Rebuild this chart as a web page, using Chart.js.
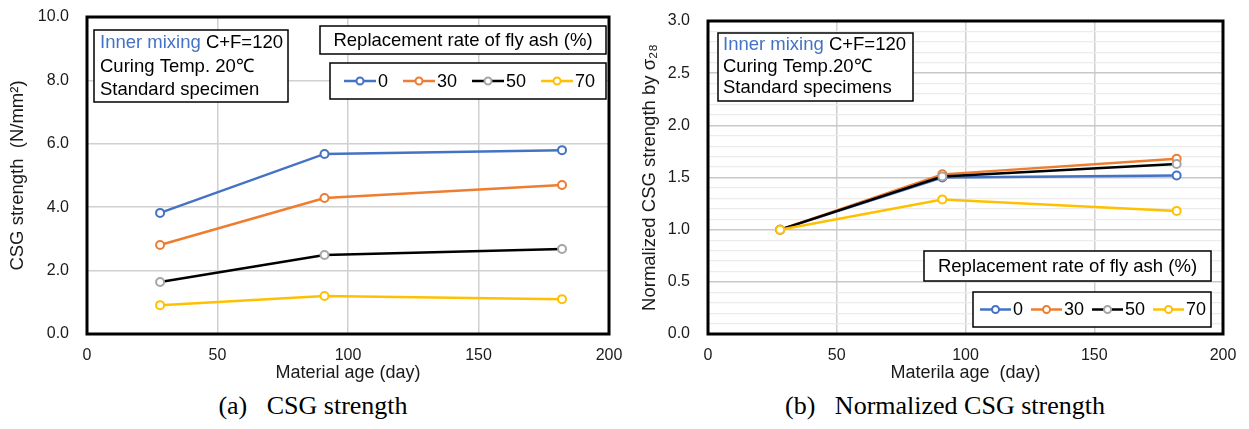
<!DOCTYPE html>
<html>
<head>
<meta charset="utf-8">
<script src="https://cdn.jsdelivr.net/npm/chart.js@4/dist/chart.umd.min.js"></script>
<style>
  html, body { margin: 0; padding: 0; background: #fff; }
  body { width: 1249px; height: 429px; position: relative; overflow: hidden; }
  canvas { position: absolute; top: 0; }
  #ca { left: 0; }
  #cb { left: 630px; }
  .cap { position: absolute; top: 391px; font-family: 'Liberation Serif', 'Times New Roman', serif; font-size: 26px; line-height: 30px; color: #000; white-space: pre; transform: translateX(-50%); }
</style>
</head>
<body>
<canvas id="ca" width="630" height="390"></canvas>
<canvas id="cb" width="619" height="390"></canvas>
<div class="cap" style="left:313px">(a)   CSG strength</div>
<div class="cap" style="left:945px">(b)   Normalized CSG strength</div>
<script>
// ---- data ----
const ages = [28, 91, 182];
const rates = ['0', '30', '50', '70'];
const strength0 = [3.82, 5.68, 5.80];
const strength30 = [2.81, 4.29, 4.70];
const strength50 = [1.64, 2.49, 2.68];
const strength70 = [0.91, 1.20, 1.10];
const norm0 = [1.00, 1.50, 1.52];
const norm30 = [1.00, 1.53, 1.68];
const norm50 = [1.00, 1.51, 1.63];
const norm70 = [1.00, 1.29, 1.18];
const xTicks = [0, 50, 100, 150, 200];

// ---- styles ----
const lineColors = ['#4472c4', '#ed7d31', '#000000', '#ffc000'];
const markColors = ['#4472c4', '#ed7d31', '#a5a5a5', '#ffc000'];
const SANS = "'Liberation Sans', Arial, sans-serif";

function makeDatasets(series) {
  return series.map((vals, i) => ({
    label: rates[i],
    data: ages.map((a, j) => ({ x: a, y: vals[j] })),
    borderColor: lineColors[i],
    borderWidth: 2.5,
    pointRadius: 4,
    pointHoverRadius: 4,
    pointBorderWidth: 2,
    pointBackgroundColor: '#ffffff',
    pointBorderColor: markColors[i],
    order: 4 - i,
    tension: 0
  }));
}

const decoPlugin = {
  id: 'deco',
  afterDraw(chart, args, opts) {
    const ctx = chart.ctx;
    const ca = chart.chartArea;
    ctx.save();
    // info text box
    const tb = opts.textBox;
    ctx.fillStyle = '#fff';
    ctx.fillRect(tb.x, tb.y, tb.w, tb.h);
    ctx.strokeStyle = '#000'; ctx.lineWidth = 1.5;
    ctx.strokeRect(tb.x, tb.y, tb.w, tb.h);
    ctx.font = '18.5px ' + SANS;
    ctx.textBaseline = 'middle';
    ctx.textAlign = 'left';
    tb.lines.forEach((ln, k) => {
      let x = tb.x + tb.padX;
      const y = tb.y + tb.firstY + k * tb.lineH;
      ln.forEach(seg => {
        ctx.fillStyle = seg.c;
        ctx.fillText(seg.t, x, y);
        x += ctx.measureText(seg.t).width;
      });
    });
    // legend title box
    const lt = opts.legendTitle;
    ctx.fillStyle = '#fff';
    ctx.fillRect(lt.x, lt.y, lt.w, lt.h);
    ctx.strokeStyle = '#000'; ctx.lineWidth = 1.5;
    ctx.strokeRect(lt.x, lt.y, lt.w, lt.h);
    ctx.fillStyle = '#000';
    ctx.textAlign = 'center';
    ctx.fillText(lt.text, lt.x + lt.w / 2, lt.y + lt.h / 2 + 1);
    // legend box
    const lg = opts.legend;
    ctx.fillStyle = '#fff';
    ctx.fillRect(lg.x, lg.y, lg.w, lg.h);
    ctx.strokeStyle = '#000'; ctx.lineWidth = 1.5;
    ctx.strokeRect(lg.x, lg.y, lg.w, lg.h);
    ctx.font = '18px ' + SANS;
    ctx.textAlign = 'left';
    let x = lg.x + lg.padX;
    const cy = lg.y + lg.h / 2;
    chart.data.datasets.forEach((ds) => {
      ctx.strokeStyle = ds.borderColor; ctx.lineWidth = 2.5;
      ctx.beginPath(); ctx.moveTo(x, cy); ctx.lineTo(x + lg.lineLen, cy); ctx.stroke();
      ctx.beginPath(); ctx.arc(x + lg.lineLen / 2, cy, 3.5, 0, Math.PI * 2);
      ctx.fillStyle = '#fff'; ctx.fill();
      ctx.strokeStyle = ds.pointBorderColor; ctx.lineWidth = 2; ctx.stroke();
      x += lg.lineLen + 2;
      ctx.fillStyle = '#000';
      ctx.fillText(ds.label, x, cy + 1);
      x += ctx.measureText(ds.label).width + lg.gap;
    });
    // plot frame
    ctx.strokeStyle = '#000'; ctx.lineWidth = 3;
    ctx.strokeRect(ca.left, ca.top, ca.right - ca.left, ca.bottom - ca.top);
    ctx.restore();
  }
};

function zeroPad(s) { s.paddingTop = 0; s.paddingBottom = 0; s.paddingLeft = 0; s.paddingRight = 0; }

function baseOptions(cfg) {
  return {
    responsive: false,
    animation: false,
    events: [],
    layout: { padding: cfg.padding },
    plugins: { legend: { display: false }, tooltip: { enabled: false }, deco: cfg.deco },
    scales: {
      x: {
        type: 'linear', min: 0, max: 200,
        afterBuildTicks: s => { s.ticks = xTicks.map(v => ({ value: v })); },
        afterFit: s => { s.height = 52; zeroPad(s); },
        grid: { color: '#d0d0d0', lineWidth: 1.5, drawTicks: false },
        border: { display: false },
        ticks: { padding: 12, color: '#1a1a1a', font: { family: SANS, size: 16 }, maxRotation: 0 },
        title: { display: true, text: cfg.xTitle, color: '#1a1a1a', font: { family: SANS, size: 18 }, padding: { top: 0, bottom: 2 } }
      },
      y: {
        min: 0, max: cfg.yMax,
        afterFit: s => { s.width = cfg.yWidth; zeroPad(s); },
        grid: { color: cfg.gridColor, lineWidth: cfg.gridWidth, drawTicks: false },
        border: { display: false },
        ticks: { stepSize: cfg.yStep, padding: 18, color: '#1a1a1a', font: { family: SANS, size: 16 }, callback: cfg.yCallback, autoSkip: false },
        title: { display: true, text: cfg.yTitle, color: '#1a1a1a', font: { family: SANS, size: 18.5 }, padding: 3 }
      }
    }
  };
}

new Chart(document.getElementById('ca'), {
  type: 'line',
  data: { datasets: makeDatasets([strength0, strength30, strength50, strength70]) },
  options: baseOptions({
    padding: { left: 4, top: 17, right: 21, bottom: 4 },
    xTitle: 'Material age (day)',
    yTitle: 'CSG strength  (N/mm\u00B2)',
    yMax: 10, yStep: 2, yWidth: 83,
    gridColor: '#d0d0d0', gridWidth: 1.5,
    yCallback: v => v.toFixed(1),
    deco: {
      textBox: { x: 94, y: 30, w: 194, h: 72, padX: 6, firstY: 13, lineH: 23.5,
        lines: [[{ t: 'Inner mixing ', c: '#4472c4' }, { t: 'C+F=120', c: '#000' }],
                [{ t: 'Curing Temp. 20\u2103', c: '#000' }],
                [{ t: 'Standard specimen', c: '#000' }]] },
      legendTitle: { x: 320, y: 26, w: 286, h: 28, text: 'Replacement rate of fly ash (%)' },
      legend: { x: 330, y: 63, w: 276, h: 36, padX: 14, lineLen: 32, gap: 15 }
    }
  }),
  plugins: [decoPlugin]
});

new Chart(document.getElementById('cb'), {
  type: 'line',
  data: { datasets: makeDatasets([norm0, norm30, norm50, norm70]) },
  options: baseOptions({
    padding: { left: 6, top: 21, right: 26, bottom: 4 },
    xTitle: 'Materila age  (day)',
    yTitle: 'Normalized CSG strength by \u03C3\u2082\u2088',
    yMax: 3, yStep: 0.1, yWidth: 72,
    gridColor: c => (Math.round(c.tick.value * 10) % 5 === 0 ? '#c8c8c8' : '#ececec'),
    gridWidth: c => (Math.round(c.tick.value * 10) % 5 === 0 ? 1.5 : 1.2),
    yCallback: v => (Math.round(v * 10) % 5 === 0 ? v.toFixed(1) : ''),
    deco: {
      textBox: { x: 718 - 630, y: 33, w: 195, h: 68, padX: 5, firstY: 12, lineH: 21.5,
        lines: [[{ t: 'Inner mixing ', c: '#4472c4' }, { t: 'C+F=120', c: '#000' }],
                [{ t: 'Curing Temp.20\u2103', c: '#000' }],
                [{ t: 'Standard specimens', c: '#000' }]] },
      legendTitle: { x: 924 - 630, y: 251, w: 287, h: 30, text: 'Replacement rate of fly ash (%)' },
      legend: { x: 973 - 630, y: 292, w: 238, h: 35, padX: 7, lineLen: 31, gap: 8 }
    }
  }),
  plugins: [decoPlugin]
});
</script>
</body>
</html>
